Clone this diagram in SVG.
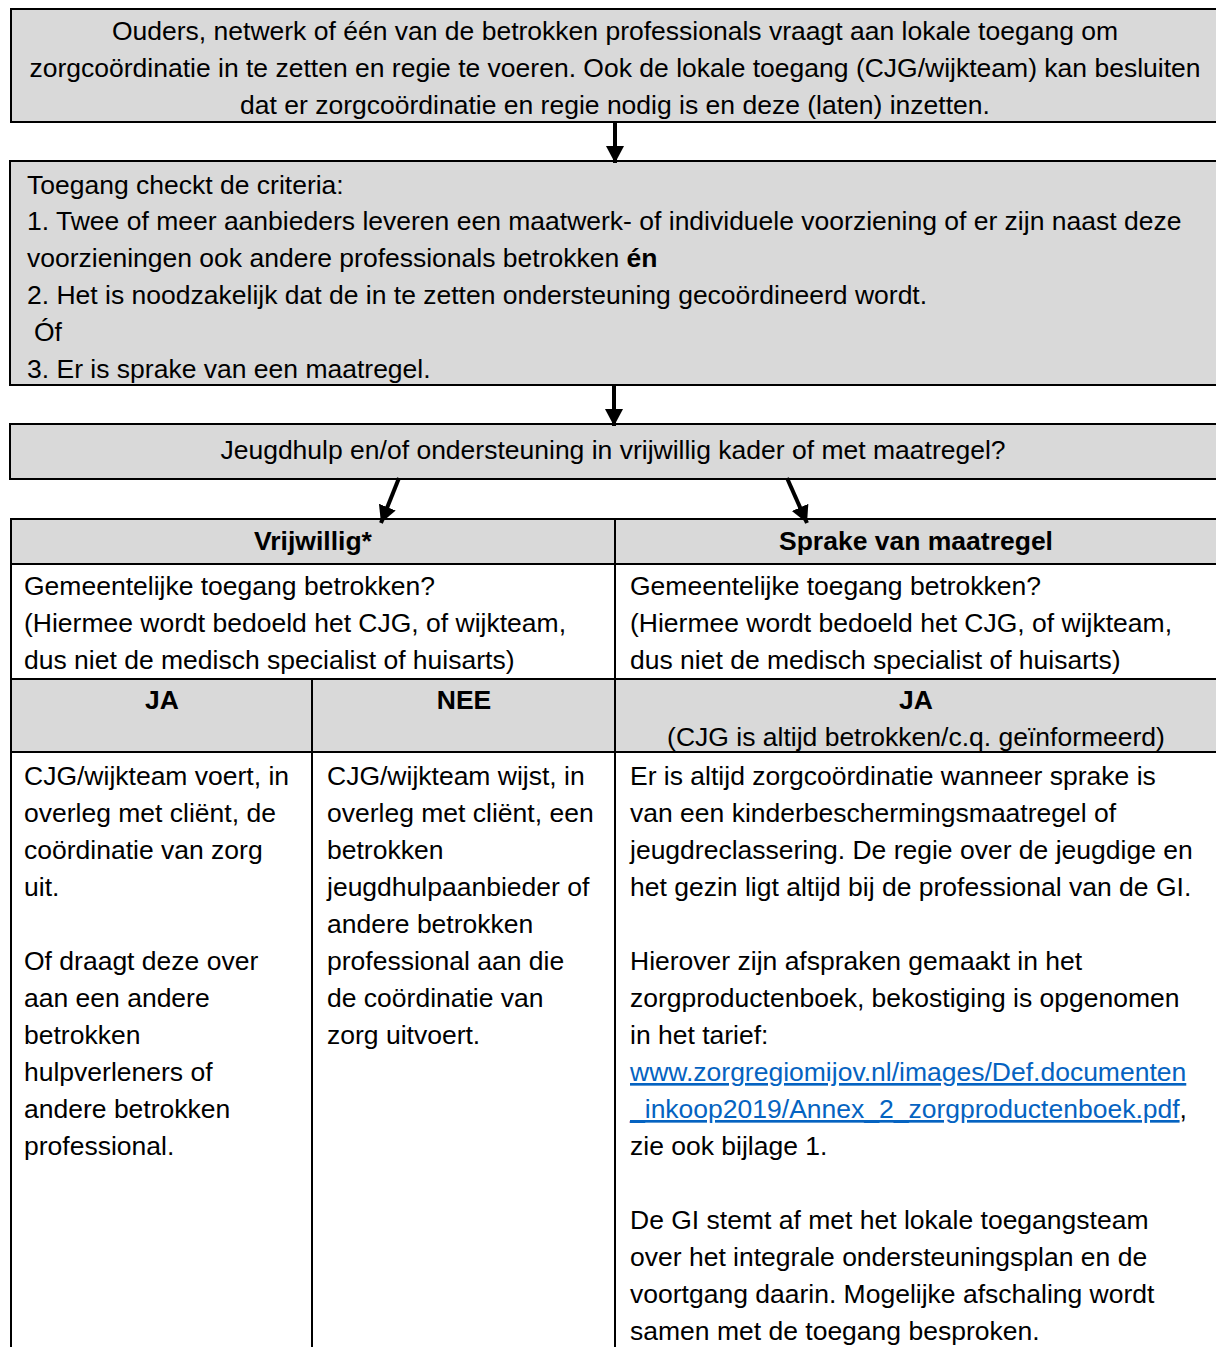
<svg xmlns="http://www.w3.org/2000/svg" width="1216" height="1347" viewBox="0 0 1216 1347">
<defs>
<style>
.box{fill:#d9d9d9;stroke:#000;stroke-width:2}
.cell{fill:#fff;stroke:#000;stroke-width:2}
.g{fill:#d9d9d9;stroke:#000;stroke-width:2}
text{font-family:"Liberation Sans",Arial,sans-serif;font-size:26.5px;fill:#000}
.c{text-anchor:middle}
.b{font-weight:bold}
.lnk{fill:#0563c1;text-decoration:underline}
.arrow{stroke:#000;stroke-width:4;fill:none}
</style>
<marker id="ah" markerUnits="userSpaceOnUse" markerWidth="20" markerHeight="20" refX="17" refY="9" orient="auto">
<path d="M0,0 L17,9 L0,18 Z" fill="#000"/>
</marker>
</defs>
<g id="node-start">
<rect class="box" x="11" y="9" width="1220" height="113"/>
<text class="c" x="615" y="40">Ouders, netwerk of één van de betrokken professionals vraagt aan lokale toegang om</text>
<text class="c" x="615" y="77">zorgcoördinatie in te zetten en regie te voeren. Ook de lokale toegang (CJG/wijkteam) kan besluiten</text>
<text class="c" x="615" y="114">dat er zorgcoördinatie en regie nodig is en deze (laten) inzetten.</text>
</g>
<g id="node-criteria">
<rect class="box" x="10" y="161" width="1220" height="224"/>
<text x="27" y="194">Toegang checkt de criteria:</text>
<text x="27" y="230">1. Twee of meer aanbieders leveren een maatwerk- of individuele voorziening of er zijn naast deze</text>
<text x="27" y="267">voorzieningen ook andere professionals betrokken <tspan class="b">én</tspan></text>
<text x="27" y="304">2. Het is noodzakelijk dat de in te zetten ondersteuning gecoördineerd wordt.</text>
<text x="34" y="341">Óf</text>
<text x="27" y="378">3. Er is sprake van een maatregel.</text>
</g>
<g id="node-question">
<rect class="box" x="10" y="424" width="1220" height="55"/>
<text class="c" x="613" y="459">Jeugdhulp en/of ondersteuning in vrijwillig kader of met maatregel?</text>
</g>
<g id="node-table">
<rect class="g" x="11" y="519" width="1220" height="45"/>
<line x1="615" y1="519" x2="615" y2="564" stroke="#000" stroke-width="2"/>
<text class="c b" x="313" y="550">Vrijwillig*</text>
<text class="c b" x="916" y="550">Sprake van maatregel</text>
<rect class="cell" x="11" y="564" width="1220" height="115"/>
<line x1="615" y1="564" x2="615" y2="679" stroke="#000" stroke-width="2"/>
<text x="24" y="595">Gemeentelijke toegang betrokken?</text>
<text x="24" y="632">(Hiermee wordt bedoeld het CJG, of wijkteam,</text>
<text x="24" y="669">dus niet de medisch specialist of huisarts)</text>
<text x="630" y="595">Gemeentelijke toegang betrokken?</text>
<text x="630" y="632">(Hiermee wordt bedoeld het CJG, of wijkteam,</text>
<text x="630" y="669">dus niet de medisch specialist of huisarts)</text>
<rect class="g" x="11" y="679" width="1220" height="73"/>
<line x1="312" y1="679" x2="312" y2="752" stroke="#000" stroke-width="2"/>
<line x1="615" y1="679" x2="615" y2="752" stroke="#000" stroke-width="2"/>
<text class="c b" x="162" y="709">JA</text>
<text class="c b" x="464" y="709">NEE</text>
<text class="c b" x="916" y="709">JA</text>
<text class="c" x="916" y="746">(CJG is altijd betrokken/c.q. geïnformeerd)</text>
<rect class="cell" x="11" y="752" width="1220" height="620"/>
<line x1="312" y1="752" x2="312" y2="1360" stroke="#000" stroke-width="2"/>
<line x1="615" y1="752" x2="615" y2="1360" stroke="#000" stroke-width="2"/>
<text x="24" y="785">CJG/wijkteam voert, in</text>
<text x="24" y="822">overleg met cliënt, de</text>
<text x="24" y="859">coördinatie van zorg</text>
<text x="24" y="896">uit.</text>
<text x="24" y="970">Of draagt deze over</text>
<text x="24" y="1007">aan een andere</text>
<text x="24" y="1044">betrokken</text>
<text x="24" y="1081">hulpverleners of</text>
<text x="24" y="1118">andere betrokken</text>
<text x="24" y="1155">professional.</text>
<text x="327" y="785">CJG/wijkteam wijst, in</text>
<text x="327" y="822">overleg met cliënt, een</text>
<text x="327" y="859">betrokken</text>
<text x="327" y="896">jeugdhulpaanbieder of</text>
<text x="327" y="933">andere betrokken</text>
<text x="327" y="970">professional aan die</text>
<text x="327" y="1007">de coördinatie van</text>
<text x="327" y="1044">zorg uitvoert.</text>
<text x="630" y="785">Er is altijd zorgcoördinatie wanneer sprake is</text>
<text x="630" y="822">van een kinderbeschermingsmaatregel of</text>
<text x="630" y="859">jeugdreclassering. De regie over de jeugdige en</text>
<text x="630" y="896">het gezin ligt altijd bij de professional van de GI.</text>
<text x="630" y="970">Hierover zijn afspraken gemaakt in het</text>
<text x="630" y="1007">zorgproductenboek, bekostiging is opgenomen</text>
<text x="630" y="1044">in het tarief:</text>
<text x="630" y="1081"><tspan class="lnk">www.zorgregiomijov.nl/images/Def.documenten</tspan></text>
<text x="630" y="1118"><tspan class="lnk">_inkoop2019/Annex_2_zorgproductenboek.pdf</tspan>,</text>
<text x="630" y="1155">zie ook bijlage 1.</text>
<text x="630" y="1229">De GI stemt af met het lokale toegangsteam</text>
<text x="630" y="1266">over het integrale ondersteuningsplan en de</text>
<text x="630" y="1303">voortgang daarin. Mogelijke afschaling wordt</text>
<text x="630" y="1340">samen met de toegang besproken.</text>
</g>
<g id="connectors">
<line class="arrow" x1="615" y1="121" x2="615" y2="163" marker-end="url(#ah)"/>
<line class="arrow" x1="614" y1="384" x2="614" y2="426" marker-end="url(#ah)"/>
<line class="arrow" x1="399" y1="478" x2="381" y2="523" marker-end="url(#ah)"/>
<line class="arrow" x1="787" y1="478" x2="807" y2="523" marker-end="url(#ah)"/>
</g>
</svg>
